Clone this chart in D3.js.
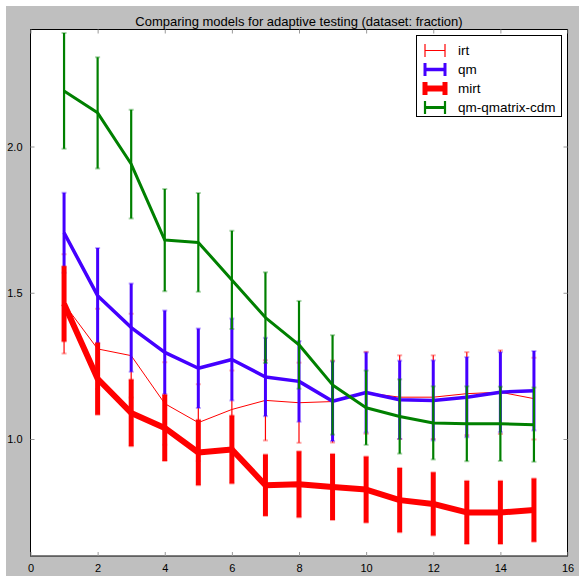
<!DOCTYPE html>
<html>
<head>
<meta charset="utf-8">
<script src="https://cdn.jsdelivr.net/npm/d3@7"></script>
<style>
  html, body { margin: 0; padding: 0; background: #ffffff; }
  svg { display: block; }
  text { font-family: "Liberation Sans", Arial, Helvetica, sans-serif; fill: #000; }
</style>
</head>
<body>
<script>
// ---------------- data ----------------
const xs = [1, 2, 3, 4, 5, 6, 7, 8, 9, 10, 11, 12, 13, 14, 15];

const irt     = [1.462, 1.308, 1.285, 1.121, 1.056, 1.101, 1.132, 1.124, 1.128, 1.158, 1.143, 1.143, 1.155, 1.160, 1.138];
const irtErr  = [0.170, 0.137, 0.143, 0.141, 0.131, 0.133, 0.137, 0.137, 0.140, 0.140, 0.143, 0.143, 0.142, 0.143, 0.140];

const qm      = [1.705, 1.490, 1.381, 1.296, 1.242, 1.272, 1.212, 1.197, 1.129, 1.159, 1.134, 1.132, 1.143, 1.160, 1.165];
const qmErr   = [0.137, 0.163, 0.151, 0.143, 0.136, 0.140, 0.134, 0.138, 0.136, 0.137, 0.134, 0.137, 0.137, 0.137, 0.136];

const mirt    = [1.462, 1.206, 1.089, 1.038, 0.954, 0.964, 0.842, 0.845, 0.836, 0.827, 0.791, 0.778, 0.749, 0.749, 0.757];
const mirtErr = [0.129, 0.123, 0.114, 0.113, 0.112, 0.116, 0.105, 0.113, 0.113, 0.113, 0.110, 0.108, 0.108, 0.108, 0.108];

const cdm     = [2.190, 2.115, 1.940, 1.680, 1.672, 1.544, 1.415, 1.322, 1.185, 1.107, 1.077, 1.055, 1.052, 1.052, 1.049];
const cdmErr  = [0.198, 0.190, 0.186, 0.175, 0.169, 0.168, 0.155, 0.150, 0.170, 0.127, 0.127, 0.125, 0.128, 0.127, 0.127];

const seriesNames = ["irt", "qm", "mirt", "qm-qmatrix-cdm"];
const xTicks = [0, 2, 4, 6, 8, 10, 12, 14, 16];
const yTicks = [1.0, 1.5, 2.0];
const xDomain = [0, 16];
const yDomain = [0.6, 2.4];
const title = "Comparing models for adaptive testing (dataset: fraction)";

// ---------------- layout ----------------
const W = 579, H = 576;
const plot = { left: 30.5, right: 567.5, top: 29.5, bottom: 556 };

const styles = {
  "irt":            { color: "#ff0000", line: 1,   bar: 1.2 },
  "qm":             { color: "#4400ff", line: 3.5, bar: 3 },
  "mirt":           { color: "#ff0000", line: 6,   bar: 5 },
  "qm-qmatrix-cdm": { color: "#008000", line: 3,   bar: 2.2 }
};

const series = [
  { name: seriesNames[0], y: irt,  e: irtErr },
  { name: seriesNames[1], y: qm,   e: qmErr },
  { name: seriesNames[2], y: mirt, e: mirtErr },
  { name: seriesNames[3], y: cdm,  e: cdmErr }
];

const svg = d3.select("body").append("svg").attr("width", W).attr("height", H);

// figure background (grey with a thin white margin at top/left)
svg.append("rect").attr("x", 0).attr("y", 0).attr("width", W).attr("height", H).attr("fill", "#ffffff");
svg.append("rect").attr("x", 6).attr("y", 6).attr("width", W - 6).attr("height", H - 6).attr("fill", "#bfbfbf");

const x = d3.scaleLinear().domain(xDomain).range([plot.left, plot.right]);
const y = d3.scaleLinear().domain(yDomain).range([plot.bottom, plot.top]);

// axes background
svg.append("rect")
  .attr("x", plot.left).attr("y", plot.top)
  .attr("width", plot.right - plot.left).attr("height", plot.bottom - plot.top)
  .attr("fill", "#ffffff");

// clip for data
svg.append("clipPath").attr("id", "clip").append("rect")
  .attr("x", plot.left).attr("y", plot.top)
  .attr("width", plot.right - plot.left).attr("height", plot.bottom - plot.top);

const dataG = svg.append("g").attr("clip-path", "url(#clip)");

const line = d3.line().x((d, i) => x(xs[i])).y(d => y(d));

series.forEach(s => {
  const st = styles[s.name];
  const g = dataG.append("g");
  // line
  g.append("path")
    .attr("d", line(s.y))
    .attr("fill", "none")
    .attr("stroke", st.color)
    .attr("stroke-width", st.line)
    .attr("stroke-linejoin", "round");
  // error bars
  g.selectAll("line.bar").data(s.y).enter().append("line")
    .attr("x1", (d, i) => x(xs[i])).attr("x2", (d, i) => x(xs[i]))
    .attr("y1", (d, i) => y(d - s.e[i])).attr("y2", (d, i) => y(d + s.e[i]))
    .attr("stroke", st.color).attr("stroke-width", st.bar);
  // caps (small, faint)
  const caps = [];
  s.y.forEach((d, i) => { caps.push([xs[i], d - s.e[i]]); caps.push([xs[i], d + s.e[i]]); });
  g.selectAll("line.cap").data(caps).enter().append("line")
    .attr("x1", d => x(d[0]) - 2.5).attr("x2", d => x(d[0]) + 2.5)
    .attr("y1", d => y(d[1])).attr("y2", d => y(d[1]))
    .attr("stroke", st.color).attr("stroke-opacity", 0.35).attr("stroke-width", 2);
});

// frame
svg.append("rect")
  .attr("x", plot.left).attr("y", plot.top)
  .attr("width", plot.right - plot.left).attr("height", plot.bottom - plot.top)
  .attr("fill", "none").attr("stroke", "#000").attr("stroke-width", 1);

// axes with inward ticks
const xAxisB = d3.axisBottom(x).tickValues(xTicks).tickFormat(d3.format("d")).tickSizeInner(-4).tickSizeOuter(0).tickPadding(8);
const xAxisT = d3.axisTop(x).tickValues(xTicks).tickFormat("").tickSizeInner(-4).tickSizeOuter(0);
const yAxisL = d3.axisLeft(y).tickValues(yTicks).tickFormat(d3.format(".1f")).tickSizeInner(-4).tickSizeOuter(0).tickPadding(8);
const yAxisR = d3.axisRight(y).tickValues(yTicks).tickFormat("").tickSizeInner(-4).tickSizeOuter(0);

function styleAxis(g) {
  g.select(".domain").remove();
  g.selectAll(".tick line").attr("stroke", "#999").attr("stroke-width", 1);
  g.selectAll(".tick text").attr("font-size", "11px").attr("font-family", "'Liberation Sans', Arial, sans-serif").attr("fill", "#000");
}
svg.append("g").attr("transform", `translate(0,${plot.bottom})`).call(xAxisB).call(styleAxis);
svg.append("g").attr("transform", `translate(0,${plot.top})`).call(xAxisT).call(styleAxis);
svg.append("g").attr("transform", `translate(${plot.left},0)`).call(yAxisL).call(styleAxis);
svg.append("g").attr("transform", `translate(${plot.right},0)`).call(yAxisR).call(styleAxis);

// title
svg.append("text")
  .attr("x", (plot.left + plot.right) / 2).attr("y", 25.5)
  .attr("text-anchor", "middle")
  .attr("font-size", "13px")
  .text(title);

// legend
const leg = { x: 416.5, y: 35.5, w: 145, h: 81, rowY0: 50.5, rowDy: 19, hx0: 425, hx1: 445, tx: 458 };
const lg = svg.append("g");
lg.append("rect").attr("x", leg.x).attr("y", leg.y).attr("width", leg.w).attr("height", leg.h)
  .attr("fill", "#ffffff").attr("stroke", "#000").attr("stroke-width", 1);
seriesNames.forEach((name, i) => {
  const st = styles[name];
  const cy = leg.rowY0 + i * leg.rowDy;
  const cw = Math.max(1.2, st.bar);
  lg.append("line").attr("x1", leg.hx0).attr("x2", leg.hx1).attr("y1", cy).attr("y2", cy)
    .attr("stroke", st.color).attr("stroke-width", st.line);
  [leg.hx0, leg.hx1].forEach(hx => {
    lg.append("line").attr("x1", hx).attr("x2", hx).attr("y1", cy - 6.5).attr("y2", cy + 6.5)
      .attr("stroke", st.color).attr("stroke-width", cw);
  });
  lg.append("text").attr("x", leg.tx).attr("y", cy + 4.5).attr("font-size", "13.5px").text(name);
});
</script>
</body>
</html>
